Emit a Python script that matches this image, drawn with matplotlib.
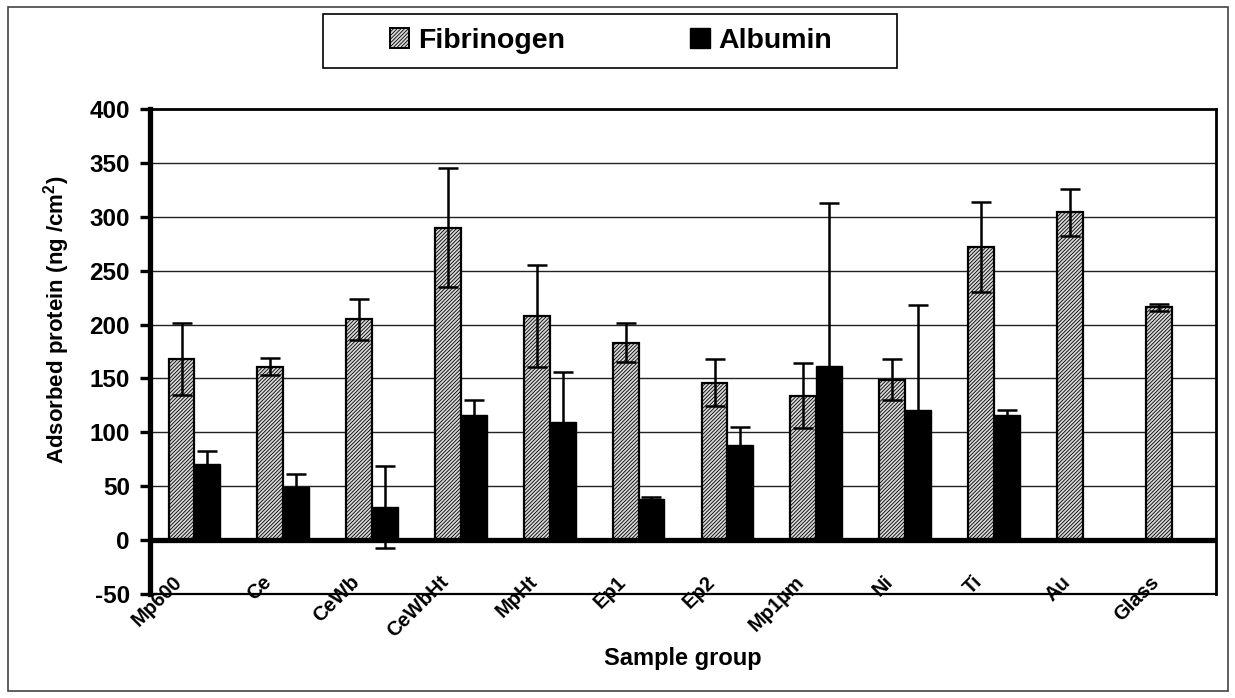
import matplotlib
matplotlib.use("Agg")
import matplotlib.pyplot as plt
from matplotlib.patches import Rectangle, Patch
import numpy as np

# sample groups and measured values (ng/cm2)
groups = ["Mp600", "Ce", "CeWb", "CeWbHt", "MpHt", "Ep1", "Ep2",
          "Mp1\u00b5m", "Ni", "Ti", "Au", "Glass"]
fibrinogen = [168, 161, 205, 290, 208, 183, 146, 134, 149, 272, 304, 216]
fibrinogen_err = [33, 8, 19, 55, 47, 18, 22, 30, 19, 42, 22, 3]
albumin = [71, 49, 31, 116, 110, 38, 88, 162, 121, 116, np.nan, np.nan]
albumin_err = [12, 12, 38, 14, 46, 2, 17, 151, 97, 5, np.nan, np.nan]

plt.rcParams['font.family'] = ['Liberation Sans', 'DejaVu Sans']
plt.rcParams['font.weight'] = 'bold'
plt.rcParams['hatch.linewidth'] = 0.6
plt.rcParams['axes.unicode_minus'] = False
plt.rcParams['mathtext.fontset'] = 'custom'
plt.rcParams['mathtext.bf'] = 'Liberation Sans:bold'
plt.rcParams['mathtext.rm'] = 'Liberation Sans:bold'

fig = plt.figure(figsize=(12.35, 6.98), dpi=100)
W, H = 1235.0, 698.0
# axes box in pixels: left 150, right 1216, top 109, bottom 594
ax = fig.add_axes([150 / W, 1 - 594 / H, (1216 - 150) / W, (594 - 109) / H])

x = np.arange(len(groups))
w = 0.29
hatch = '/' * 9
ax.bar(x - w / 2, fibrinogen, w, facecolor='#d8d8d8', edgecolor='black',
       linewidth=1.6, hatch=hatch, zorder=3)
ax.bar(x + w / 2, albumin, w, color='black', edgecolor='black', zorder=3)
ax.errorbar(x - w / 2, fibrinogen, yerr=fibrinogen_err, fmt='none',
            ecolor='black', elinewidth=1.8, capsize=7, capthick=1.8, zorder=4)
ax.errorbar(x + w / 2, albumin, yerr=albumin_err, fmt='none',
            ecolor='black', elinewidth=1.8, capsize=7, capthick=1.8, zorder=2)

ax.set_xlim(-0.5, len(groups) - 0.5)
ax.set_ylim(-50, 400)
ax.set_yticks(np.arange(-50, 401, 50))
ax.tick_params(axis='y', labelsize=17.5, width=2.4, length=7.5, direction='out', pad=7)
ax.set_xticks([])
for lab in ax.get_yticklabels():
    lab.set_fontweight('bold')

# gridlines and zero line
for v in range(50, 400, 50):
    ax.axhline(v, color='#222222', linewidth=1.0, zorder=1)
ax.axhline(0, color='black', linewidth=3.8, zorder=5)

ax.spines['left'].set_linewidth(3.8)
ax.spines['right'].set_linewidth(2)
ax.spines['top'].set_linewidth(2)
ax.spines['bottom'].set_linewidth(1.6)

# rotated category labels
for i, g in enumerate(groups):
    ax.text(i - 0.17, -36, g, rotation=45, rotation_mode='anchor',
            ha='right', va='center', fontsize=14.5, fontweight='bold',
            clip_on=False)

fig.text(683 / W, 1 - 658 / H, "Sample group", ha='center', va='center',
         fontsize=17, fontweight='bold')
fig.text(57 / W, 1 - 320 / H, "Adsorbed protein (ng /cm$^{2}$)",
         rotation=90, ha='center', va='center', fontsize=16, fontweight='bold')

# legend box
fig.patches.append(Rectangle((323 / W, 1 - 68 / H), (897 - 323) / W, 54 / H,
                             transform=fig.transFigure, facecolor='white',
                             edgecolor='black', linewidth=1.2))
handles = [Patch(facecolor='#d8d8d8', edgecolor='black', hatch=hatch, linewidth=1.4),
           Patch(facecolor='black', edgecolor='black')]
fig.legend(handles, ["Fibrinogen", "Albumin"], loc='center',
           bbox_to_anchor=(611 / W, 1 - 41 / H), ncol=2, frameon=False,
           prop={'size': 20.5, 'weight': 'bold'}, handlelength=0.7,
           handleheight=0.7, handletextpad=0.3, columnspacing=4.4)

# outer frame
fig.patches.append(Rectangle((8 / W, 1 - 691 / H), (1228 - 8) / W, (691 - 7) / H,
                             transform=fig.transFigure, facecolor='none',
                             edgecolor='#444444', linewidth=1.2))

fig.savefig("out.png", dpi=100)
